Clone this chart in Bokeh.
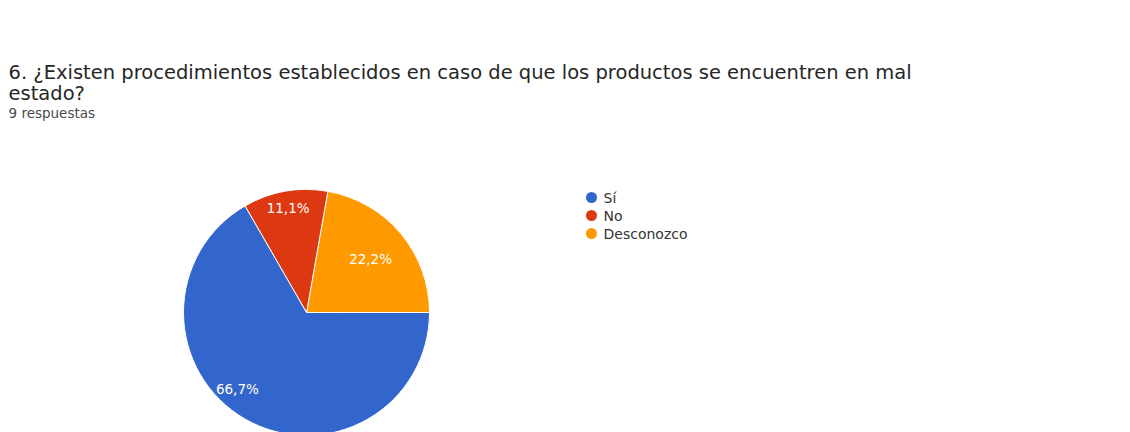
import math
from bokeh.plotting import figure
from bokeh.models import Range1d, ColumnDataSource
from bokeh.core.properties import value
from bokeh.embed import file_html
from bokeh.resources import INLINE

# ---- data ----
categories = ["Sí", "No", "Desconozco"]
counts = [6, 1, 2]
colors = ["#3366cc", "#dc3912", "#ff9900"]
title_line1 = "6. ¿Existen procedimientos establecidos en caso de que los productos se encuentren en mal"
title_line2 = "estado?"
subtitle = "9 respuestas"

FONT = "DejaVu Sans"
W, H = 1130, 432
p = figure(width=W, height=H, output_backend="svg", toolbar_location=None,
           x_range=Range1d(0, W), y_range=Range1d(0, H), min_border=0)
p.axis.visible = False
p.grid.visible = False
p.outline_line_color = None
p.background_fill_color = "white"

def Y(py):
    return H - py

# pie: counter-clockwise from 3 o'clock, drawn in reverse category order
cx, cy, R = 306, Y(312), 123
total = sum(counts)
order = list(reversed(range(len(categories))))
starts, ends, cols, lx, ly, labels = [], [], [], [], [], []
label_r = [0.84, 0.86, 0.68]  # per-slice label distance factor (style)
a = 0.0
for i in order:
    frac = counts[i] / total
    s = a
    e = a + frac * 2 * math.pi
    starts.append(s); ends.append(e); cols.append(colors[i])
    mid = (s + e) / 2
    if i == 0:
        mid = s + (e - s) * 0.45
    r = label_r[i] * R
    lx.append(cx + r * math.cos(mid)); ly.append(cy + r * math.sin(mid))
    labels.append(f"{frac*100:.1f}%".replace(".", ","))
    a = e

src = ColumnDataSource(dict(start=starts, end=ends, color=cols))
p.wedge(x=cx, y=cy, radius=R, start_angle="start", end_angle="end",
        fill_color="color", line_color="white", line_width=1, source=src)
p.text(x=lx, y=ly, text=labels, text_color="white", text_font=value(FONT),
       text_font_size="13.5px", text_align="center", text_baseline="middle")

# titles
p.text(x=[8], y=[Y(72)], text=[title_line1], text_font=value(FONT),
       text_font_size="19.5px", text_color="#262626", text_baseline="middle")
p.text(x=[8], y=[Y(93)], text=[title_line2], text_font=value(FONT),
       text_font_size="19.5px", text_color="#262626", text_baseline="middle")
p.text(x=[8], y=[Y(112)], text=[subtitle], text_font=value(FONT),
       text_font_size="13.5px", text_color="#4a4a4a", text_baseline="middle")

# legend
leg_x = 591
leg_y = [Y(197 + 18 * k) for k in range(len(categories))]
p.scatter(x=[leg_x] * len(categories), y=leg_y, size=11, marker="circle",
          fill_color=colors, line_color=None)
p.text(x=[leg_x + 12] * len(categories), y=leg_y, text=categories,
       text_font=value(FONT), text_font_size="14px", text_color="#333333",
       text_baseline="middle")

open("out.html", "w").write(file_html(p, INLINE))
